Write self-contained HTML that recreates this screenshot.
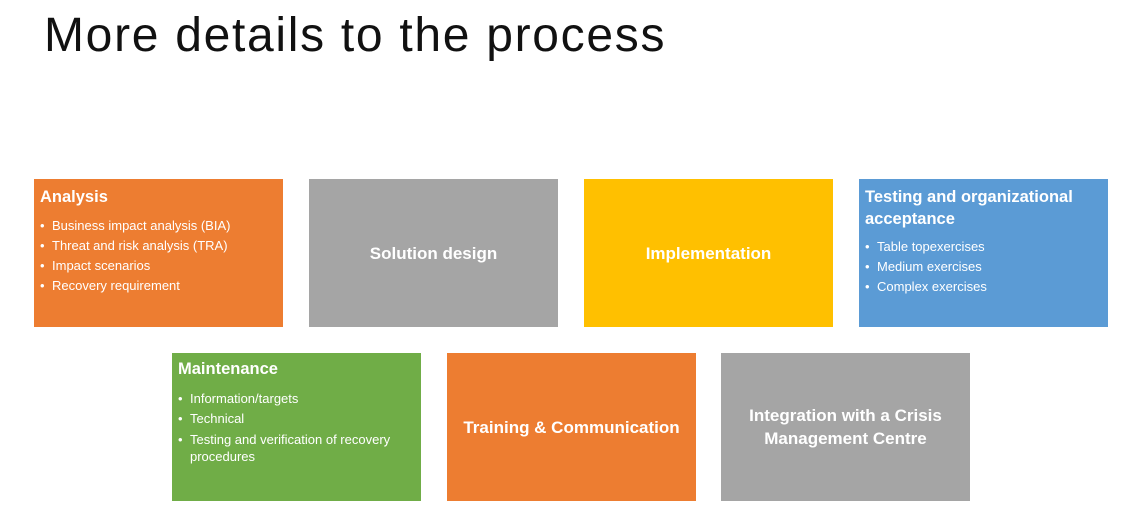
<!DOCTYPE html>
<html><head><style>
body{margin:0;width:1144px;height:527px;background:#fff;position:relative;overflow:hidden;font-family:"Liberation Sans",sans-serif;}
h1{position:absolute;left:44px;top:8px;margin:0;font-weight:normal;font-size:48px;color:#111;letter-spacing:1.7px}
.b{position:absolute;width:249px;height:148px;color:#fff;box-sizing:border-box;}
.h{position:absolute;left:6px;top:7px;font-weight:bold;font-size:16.5px;line-height:22px}
ul{position:absolute;left:6px;top:37px;margin:0;padding:0;list-style:none;font-size:13px;line-height:20px}
li{padding-left:12px;position:relative}
li:before{content:"•";position:absolute;left:0}
.c{display:flex;align-items:center;justify-content:center;text-align:center;font-weight:bold;font-size:17px;line-height:23px}
</style></head><body>
<h1>More details to the process</h1>
<div class="b" style="left:34px;top:179px;background:#ED7D31"><div class="h">Analysis</div>
<ul><li>Business impact analysis (BIA)</li><li>Threat and risk analysis (TRA)</li><li>Impact scenarios</li><li>Recovery requirement</li></ul></div>
<div class="b c" style="left:309px;top:179px;background:#A5A5A5">Solution design</div>
<div class="b c" style="left:584px;top:179px;background:#FFC000">Implementation</div>
<div class="b" style="left:859px;top:179px;background:#5B9BD5"><div class="h">Testing and organizational<br>acceptance</div>
<ul style="top:58px"><li>Table topexercises</li><li>Medium exercises</li><li>Complex exercises</li></ul></div>
<div class="b" style="left:172px;top:353px;background:#70AD47"><div class="h" style="top:5px">Maintenance</div>
<ul style="top:36px;line-height:20px"><li>Information/targets</li><li>Technical</li><li style="line-height:17px;padding-top:2px">Testing and verification of recovery procedures</li></ul></div>
<div class="b c" style="left:447px;top:353px;background:#ED7D31">Training &amp; Communication</div>
<div class="b c" style="left:721px;top:353px;background:#A5A5A5">Integration with a Crisis<br>Management Centre</div>
</body></html>
